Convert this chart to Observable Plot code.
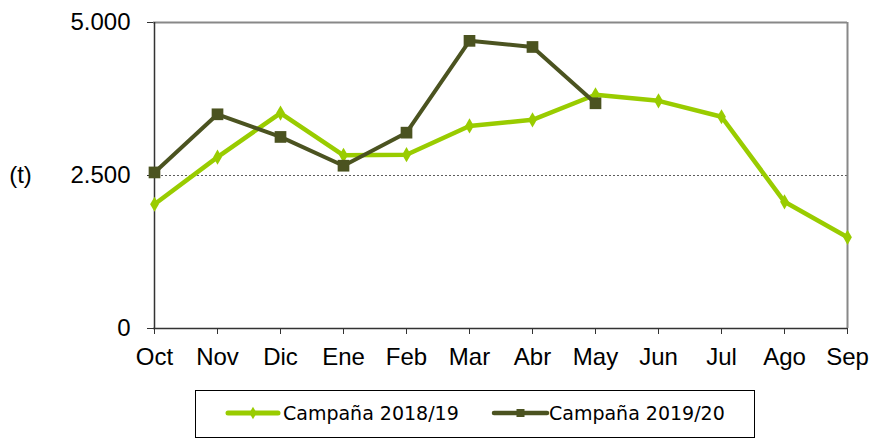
<!DOCTYPE html>
<html>
<head>
<meta charset="utf-8">
<script src="https://cdn.jsdelivr.net/npm/d3@7"></script>
<script src="https://cdn.jsdelivr.net/npm/@observablehq/plot@0.6"></script>
<style>
  html, body { margin: 0; padding: 0; background: #fff; }
  #chart { position: relative; width: 876px; height: 446px; }
  #legend { position: absolute; left: 0; top: 380px; }
</style>
</head>
<body>
<div id="chart"></div>
<script>
const months = ["Oct","Nov","Dic","Ene","Feb","Mar","Abr","May","Jun","Jul","Ago","Sep"];
const campana1819 = [2030, 2800, 3520, 2830, 2840, 3310, 3410, 3820, 3720, 3460, 2070, 1490];
const campana1920 = [2550, 3500, 3130, 2660, 3200, 4700, 4600, 3680];
const seriesNames = ["Campaña 2018/19", "Campaña 2019/20"];
const yTicks = [0, 2500, 5000];
const colors = ["#99CC00", "#4B5320"];

const s1 = campana1819.map((v, i) => ({month: months[i], value: v}));
const s2 = campana1920.map((v, i) => ({month: months[i], value: v}));

const fmt = d => d3.format(",")(d).replace(/,/g, ".");

const plot = Plot.plot({
  width: 876,
  height: 380,
  marginLeft: 153,
  marginRight: 29,
  marginTop: 22,
  marginBottom: 52,
  style: {fontFamily: "'Liberation Sans', Arial, sans-serif", fontSize: "24px", color: "#000", background: "#fff"},
  x: {type: "point", domain: months, padding: 0},
  y: {domain: [0, 5000]},
  marks: [
    Plot.ruleY([2500], {stroke: "#333", strokeWidth: 0.8, strokeDasharray: "2,2"}),
    Plot.ruleY([5000], {stroke: "#888", strokeWidth: 2}),
    Plot.ruleX([months[months.length - 1]], {stroke: "#888", strokeWidth: 2}),
    Plot.ruleX([months[0]], {stroke: "#333", strokeWidth: 1.5}),
    Plot.ruleY([0], {stroke: "#333", strokeWidth: 1.5}),
    Plot.axisY({ticks: yTicks, tickFormat: fmt, tickSize: 6, tickPadding: 17, label: null, stroke: "#333", fontSize: 24}),
    Plot.axisX({tickSize: 6, tickPadding: 13, label: null, stroke: "#333", fontSize: 24}),
    Plot.text([2500], {y: d => d, text: () => "(t)", frameAnchor: "left", dx: -133, textAnchor: "middle", fontSize: 24}),
    Plot.line(s1, {x: "month", y: "value", stroke: colors[0], strokeWidth: 4.5}),
    Plot.dot(s1, {x: "month", y: "value", symbol: "diamond", r: 4.6, fill: colors[0]}),
    Plot.line(s2, {x: "month", y: "value", stroke: colors[1], strokeWidth: 4}),
    Plot.dot(s2, {x: "month", y: "value", symbol: "square", r: 6.6, fill: colors[1]})
  ]
});
document.getElementById("chart").appendChild(plot);

// Legend
const leg = d3.create("svg").attr("id", "legend").attr("width", 876).attr("height", 66);
leg.append("rect").attr("x", 195.5).attr("y", 10.5).attr("width", 559).attr("height", 47)
  .attr("fill", "#fff").attr("stroke", "#000").attr("stroke-width", 1);
const items = [
  {x0: 228, x1: 278, tx: 283, sym: d3.symbolDiamond, size: 45, color: colors[0], w: 5},
  {x0: 494, x1: 547, tx: 549, sym: d3.symbolSquare, size: 64, color: colors[1], w: 4.5}
];
items.forEach((it, i) => {
  const g = leg.append("g");
  g.append("line").attr("x1", it.x0).attr("x2", it.x1).attr("y1", 33).attr("y2", 33)
    .attr("stroke", it.color).attr("stroke-width", it.w).attr("stroke-linecap", "round");
  g.append("path").attr("d", d3.symbol(it.sym, it.size)()).attr("transform", `translate(${(it.x0 + it.x1) / 2},33)`)
    .attr("fill", it.color);
  g.append("text").attr("x", it.tx).attr("y", 33).attr("dy", "0.35em")
    .attr("font-family", "'DejaVu Sans', sans-serif").attr("font-size", 19).attr("fill", "#000")
    .text(seriesNames[i]);
});
document.getElementById("chart").appendChild(leg.node());
</script>
</body>
</html>
